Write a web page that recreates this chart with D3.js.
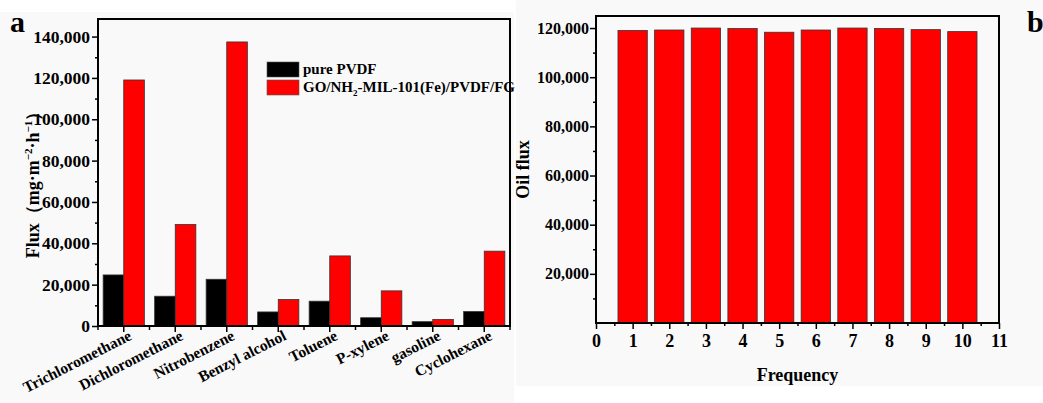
<!DOCTYPE html>
<html>
<head>
<meta charset="utf-8">
<script src="https://cdn.jsdelivr.net/npm/d3@7"></script>
<style>
  body { margin: 0; background: #fff; }
  svg text { font-family: "Liberation Serif", "Times New Roman", serif; font-weight: bold; }
</style>
</head>
<body>
<svg id="chart" width="1043" height="403"></svg>
<script>
// panel a: solvent flux
var solvents = ['Trichloromethane', 'Dichloromethane', 'Nitrobenzene', 'Benzyl alcohol', 'Toluene', 'P-xylene', 'gasoline', 'Cyclohexane']
var purePVDF = [24700, 14400, 22600, 6800, 12000, 4000, 2100, 7000]
var composite = [119000, 49100, 137400, 12800, 33900, 17000, 3200, 36200]
var seriesNames = ['pure PVDF', 'GO/NH2-MIL-101(Fe)/PVDF/FG']
var seriesColors = ['#000000', '#ff0000']
var fluxTicks = [0, 20000, 40000, 60000, 80000, 100000, 120000, 140000]

// panel b: cycling
var cycles = [1, 2, 3, 4, 5, 6, 7, 8, 9, 10]
var oilFlux = [119000, 119200, 120000, 119800, 118300, 119200, 120000, 119800, 119350, 118550]
var cycleTicks = [0, 1, 2, 3, 4, 5, 6, 7, 8, 9, 10, 11]
var oilTicks = [20000, 40000, 60000, 80000, 100000, 120000]

var svg = d3.select('#chart')
var fmt = d3.format(',')

// faint panel backgrounds like the scanned figure
svg.append('rect').attr('x', 0).attr('y', 12).attr('width', 514).attr('height', 391).attr('fill', '#f9f9f9')
svg.append('rect').attr('x', 516).attr('y', 0).attr('width', 527).attr('height', 386).attr('fill', '#f9f9f9')

/* ---------- panel a ---------- */
var a = { left: 98, top: 19, right: 510, bottom: 326 }
var xa = d3.scaleBand().domain(solvents).range([a.left, a.right]).paddingInner(0.2).paddingOuter(0.1)
var xs = d3.scaleBand().domain([0, 1]).range([0, xa.bandwidth()])
var ya = d3.scaleLinear().domain([0, 148500]).range([a.bottom, a.top])

var ga = svg.append('g')

var rows = solvents.map(function(s, i) { return { name: s, vals: [purePVDF[i], composite[i]] } })
ga.selectAll('g.grp')
  .data(rows)
  .enter()
  .append('g')
  .attr('class', 'grp')
  .attr('transform', function(d) { return 'translate(' + xa(d.name) + ',0)' })
  .selectAll('rect')
  .data(function(d) { return d.vals })
  .enter()
  .append('rect')
  .attr('x', function(d, j) { return xs(j) })
  .attr('width', xs.bandwidth())
  .attr('y', function(d) { return ya(d) })
  .attr('height', function(d) { return ya(0) - ya(d) })
  .attr('fill', function(d, j) { return seriesColors[j] })
  .attr('stroke', '#333')
  .attr('stroke-width', 0.8)

// y axis a
var yAxisA = d3.axisLeft(ya).tickValues(fluxTicks).tickFormat(fmt).tickSize(6).tickPadding(2)
var gya = ga.append('g').attr('transform', 'translate(' + a.left + ',0)').call(yAxisA)
gya.append('g').call(d3.axisLeft(ya).tickValues(d3.range(10000, 148000, 20000)).tickSize(3).tickFormat(''))
gya.selectAll('path.domain').remove()
gya.selectAll('line').attr('stroke', '#000').attr('stroke-width', 1.5)
gya.selectAll('text').attr('font-size', 17.5).attr('fill', '#000')

// x axis a
var gxa = ga.append('g').attr('transform', 'translate(0,' + a.bottom + ')')
  .call(d3.axisBottom(xa).tickSize(6).tickSizeOuter(0))
// minor ticks between groups
var step = xa.step()
var bounds = d3.range(solvents.length + 1).map(function(i) { return a.left + i * step })
gxa.selectAll('line.minor')
  .data(bounds)
  .enter()
  .append('line')
  .attr('class', 'minor')
  .attr('x1', function(d) { return d })
  .attr('x2', function(d) { return d })
  .attr('y1', 0)
  .attr('y2', 4)
gxa.selectAll('path.domain').remove()
gxa.selectAll('line').attr('stroke', '#000').attr('stroke-width', 1.5)
gxa.selectAll('text')
  .attr('font-size', 15.5)
  .attr('fill', '#000')
  .attr('text-anchor', 'end')
  .attr('dy', null)
  .attr('y', 0)
  .attr('transform', 'translate(9,13) rotate(-27)')

// frame a
ga.append('rect').attr('x', a.left).attr('y', a.top).attr('width', a.right - a.left).attr('height', a.bottom - a.top)
  .attr('fill', 'none').attr('stroke', '#000').attr('stroke-width', 2)

// y label a
var yla = ga.append('text').attr('transform', 'translate(39,' + ((a.top + a.bottom) / 2 + 8) + ') rotate(-90)')
  .attr('text-anchor', 'middle').attr('font-size', 18).attr('fill', '#000')
yla.append('tspan').text('Flux（mg·m')
yla.append('tspan').attr('dy', -7).attr('font-size', 11).text('−2')
yla.append('tspan').attr('dy', 7).text('·h')
yla.append('tspan').attr('dy', -7).attr('font-size', 11).text('−1')
yla.append('tspan').attr('dy', 7).text('）')

// legend a
var lg = ga.append('g').attr('transform', 'translate(267,62)')
seriesNames.forEach(function(n, i) {
  lg.append('rect').attr('x', 0).attr('y', i * 18).attr('width', 32).attr('height', 15)
    .attr('fill', seriesColors[i]).attr('stroke', '#555').attr('stroke-width', 0.6)
  var t = lg.append('text').attr('x', 36).attr('y', i * 18 + 12).attr('font-size', 15).attr('fill', '#000')
  if (i === 0) {
    t.text(n)
  } else {
    t.append('tspan').text('GO/NH')
    t.append('tspan').attr('dy', 4).attr('font-size', 9).text('2')
    t.append('tspan').attr('dy', -4).text('-MIL-101(Fe)/PVDF/FG')
  }
})

ga.append('text').attr('x', 10).attr('y', 32).attr('font-size', 30).attr('fill', '#000').text('a')

/* ---------- panel b ---------- */
var b = { left: 596, top: 16, right: 999, bottom: 323 }
var xb = d3.scaleLinear().domain([0, 11]).range([b.left, b.right])
var yb = d3.scaleLinear().domain([0, 124900]).range([b.bottom, b.top])
var gb = svg.append('g')
var bw = xb(0.8) - xb(0)

gb.selectAll('rect.bar')
  .data(oilFlux)
  .enter()
  .append('rect')
  .attr('class', 'bar')
  .attr('x', function(d, i) { return xb(cycles[i]) - bw / 2 })
  .attr('width', bw)
  .attr('y', function(d) { return yb(d) })
  .attr('height', function(d) { return yb(0) - yb(d) })
  .attr('fill', '#ff0000')
  .attr('stroke', '#333')
  .attr('stroke-width', 0.8)

var gyb = gb.append('g').attr('transform', 'translate(' + b.left + ',0)')
  .call(d3.axisLeft(yb).tickValues(oilTicks).tickFormat(fmt).tickSize(6).tickPadding(1))
gyb.append('g').call(d3.axisLeft(yb).tickValues(d3.range(10000, 124000, 20000)).tickSize(3).tickFormat(''))
gyb.selectAll('path.domain').remove()
gyb.selectAll('line').attr('stroke', '#000').attr('stroke-width', 1.5)
gyb.selectAll('text').attr('font-size', 16).attr('fill', '#000')

var gxb = gb.append('g').attr('transform', 'translate(0,' + b.bottom + ')')
  .call(d3.axisBottom(xb).tickValues(cycleTicks).tickFormat(d3.format('d')).tickSize(6).tickPadding(5))
gxb.append('g').call(d3.axisBottom(xb).tickValues(d3.range(0.5, 11, 1)).tickSize(3).tickFormat(''))
gxb.selectAll('path.domain').remove()
gxb.selectAll('line').attr('stroke', '#000').attr('stroke-width', 1.5)
gxb.selectAll('text').attr('font-size', 18).attr('fill', '#000')

gb.append('rect').attr('x', b.left).attr('y', b.top).attr('width', b.right - b.left).attr('height', b.bottom - b.top)
  .attr('fill', 'none').attr('stroke', '#000').attr('stroke-width', 2)

gb.append('text').attr('transform', 'translate(529,' + ((b.top + b.bottom) / 2) + ') rotate(-90)')
  .attr('text-anchor', 'middle').attr('font-size', 18).attr('fill', '#000').text('Oil flux')
gb.append('text').attr('x', (b.left + b.right) / 2).attr('y', 381)
  .attr('text-anchor', 'middle').attr('font-size', 18).attr('fill', '#000').text('Frequency')

gb.append('text').attr('x', 1027).attr('y', 32).attr('font-size', 30).attr('fill', '#000').text('b')
</script>
</body>
</html>
